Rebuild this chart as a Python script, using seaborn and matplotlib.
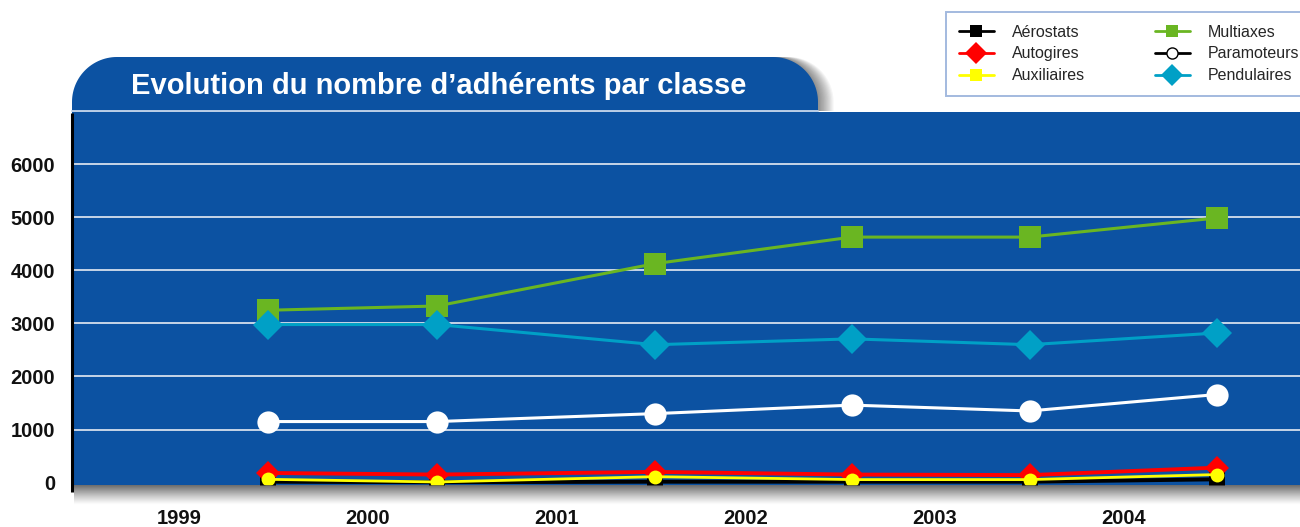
import numpy as np
import matplotlib
matplotlib.use("Agg")
import matplotlib.pyplot as plt
import seaborn as sns
from matplotlib.lines import Line2D
from matplotlib.path import Path
from matplotlib.patches import PathPatch

# ---------------- data ----------------
years = [1999, 2000, 2001, 2002, 2003, 2004]
x_pos = [1999.47, 2000.365, 2001.52, 2002.56, 2003.50, 2004.49]
aerostats = [15, 5, 15, 15, 15, 60]
autogires = [180, 150, 200, 150, 140, 280]
auxiliaires = [60, 10, 110, 55, 55, 150]
multiaxes = [3250, 3330, 4130, 4630, 4630, 4990]
paramoteurs = [1150, 1150, 1300, 1460, 1350, 1660]
pendulaires = [2980, 2980, 2600, 2710, 2600, 2820]
y_ticks = [0, 1000, 2000, 3000, 4000, 5000, 6000]
labels = ["Aérostats", "Autogires", "Auxiliaires", "Multiaxes", "Paramoteurs", "Pendulaires"]
title = "Evolution du nombre d’adhérents par classe"

# ---------------- style ----------------
sns.set_style("white")
FONT = ["Liberation Sans", "DejaVu Sans"]
plt.rcParams["font.family"] = FONT

BLUE = "#0C52A2"
GREEN = "#6AB622"
CYAN = "#00A0C6"
GRID = "#C8D5E7"

W, H = 1300, 527
fig = plt.figure(figsize=(13, 5.27), dpi=100)
fig.patch.set_facecolor("white")

ax = fig.add_axes([72 / W, 42 / H, 1 - 72 / W, 373 / H])
ax.set_facecolor(BLUE)
for s in ax.spines.values():
    s.set_visible(False)

series = [
    (multiaxes, GREEN, "s", 16.5, GREEN, 2.2, 3),
    (pendulaires, CYAN, "D", 15.5, CYAN, 2.2, 4),
    (paramoteurs, "white", "o", 16, "white", 2.2, 5),
    (aerostats, "black", "s", 11, "black", 2.8, 6),
    (autogires, "#FF0000", "D", 12.5, "#FF0000", 2.8, 7),
    (auxiliaires, "#FFFF00", "o", 10, "#FFFF00", 2.0, 8),
]
for vals, col, mk, ms, mec, lw, z in series:
    sns.lineplot(x=x_pos, y=vals, ax=ax, color=col, marker=mk, markersize=ms,
                 markeredgecolor=mec, markeredgewidth=0, linewidth=lw, zorder=z)

ax.set_xlim(1998.434, 2004.931)
ax.set_ylim(-47, 6990)
ax.set_xticks(years)
ax.set_xticklabels([str(y) for y in years])
ax.set_yticks(y_ticks)
ax.set_yticklabels([str(v) for v in y_ticks])
ax.yaxis.grid(True, color=GRID, linewidth=1.4, zorder=1)
ax.xaxis.grid(False)
ax.get_ygridlines()[0].set_visible(False)
ax.set_axisbelow(True)
ax.tick_params(axis="x", direction="in", length=8, width=1.3, color=GRID,
               pad=17, labelsize=14.5, labelcolor="#111111")
ax.tick_params(axis="y", length=0, pad=12, labelsize=14.5, labelcolor="#111111")
for t in ax.get_xticklabels() + ax.get_yticklabels():
    t.set_fontweight("bold")
ax.set_xlabel("")
ax.set_ylabel("")

# ---------------- overlay (pixel coordinates) ----------------
ov = fig.add_axes([0, 0, 1, 1], zorder=5)
ov.set_xlim(0, W)
ov.set_ylim(H, 0)
ov.axis("off")
ov.patch.set_alpha(0)


def tab_path(x0, x1, y0, y1, r, dx=0, dy=0):
    t1 = np.linspace(np.pi, 1.5 * np.pi, 30)
    t2 = np.linspace(1.5 * np.pi, 2 * np.pi, 30)
    pts = [(x0, y1)]
    pts += list(zip(x0 + r + r * np.cos(t1), y0 + r + r * np.sin(t1)))
    pts += list(zip(x1 - r + r * np.cos(t2), y0 + r + r * np.sin(t2)))
    pts += [(x1, y1), (x0, y1)]
    pts = [(px + dx, py + dy) for px, py in pts]
    return Path(pts)


# tab shadow
for i in range(1, 14):
    ov.add_patch(PathPatch(tab_path(72, 818, 57, 111, 45, dx=i * 1.2, dy=0),
                           facecolor="black", edgecolor="none", alpha=0.04, zorder=1))
ov.add_patch(PathPatch(tab_path(72, 818, 57, 111, 45), facecolor=BLUE,
                       edgecolor="none", zorder=2))
ov.plot([72, 818], [111, 111], color="#B9CDE6", linewidth=1.4, zorder=3)
ov.text(439, 86, title, color="white", fontsize=21, fontweight="bold",
        family=FONT, ha="center", va="center", zorder=4)

# bottom shadow of plot area
grad = np.zeros((40, 1, 4))
grad[..., :3] = 0.3
grad[:, 0, 3] = np.linspace(0.85, 0.0, 40) ** 1.2
ov.imshow(grad, extent=[74, W, 505, 485], aspect="auto", zorder=1, interpolation="bilinear")
ov.set_xlim(0, W)
ov.set_ylim(H, 0)

# black left axis line
ov.plot([72, 72], [113, 492], color="black", linewidth=2.2, zorder=6,
        solid_capstyle="butt")

# ---------------- legend ----------------
handles = [
    Line2D([], [], color="black", marker="s", markersize=9, markeredgewidth=0, linewidth=2),
    Line2D([], [], color="#FF0000", marker="D", markersize=11, markeredgewidth=0, linewidth=2),
    Line2D([], [], color="#FFFF00", marker="s", markersize=9, markeredgewidth=0, linewidth=2),
    Line2D([], [], color=GREEN, marker="s", markersize=9, markeredgewidth=0, linewidth=2),
    Line2D([], [], color="black", marker="o", markersize=8, markerfacecolor="white",
           markeredgecolor="black", markeredgewidth=1, linewidth=2),
    Line2D([], [], color=CYAN, marker="D", markersize=11, markeredgewidth=0, linewidth=2),
]
leg = fig.legend(handles, labels, loc="upper left", bbox_to_anchor=(946 / W, 1 - 12 / H),
                 bbox_transform=fig.transFigure, ncol=2, frameon=True, fancybox=False,
                 fontsize=11.5, handlelength=2.2, handletextpad=1.1, columnspacing=4.4,
                 labelspacing=0.42, borderpad=0.8, borderaxespad=0)
leg.get_frame().set_edgecolor("#8CA8D6")
leg.get_frame().set_linewidth(1.4)
leg.set_zorder(10)

fig.savefig("out.png", dpi=100)
